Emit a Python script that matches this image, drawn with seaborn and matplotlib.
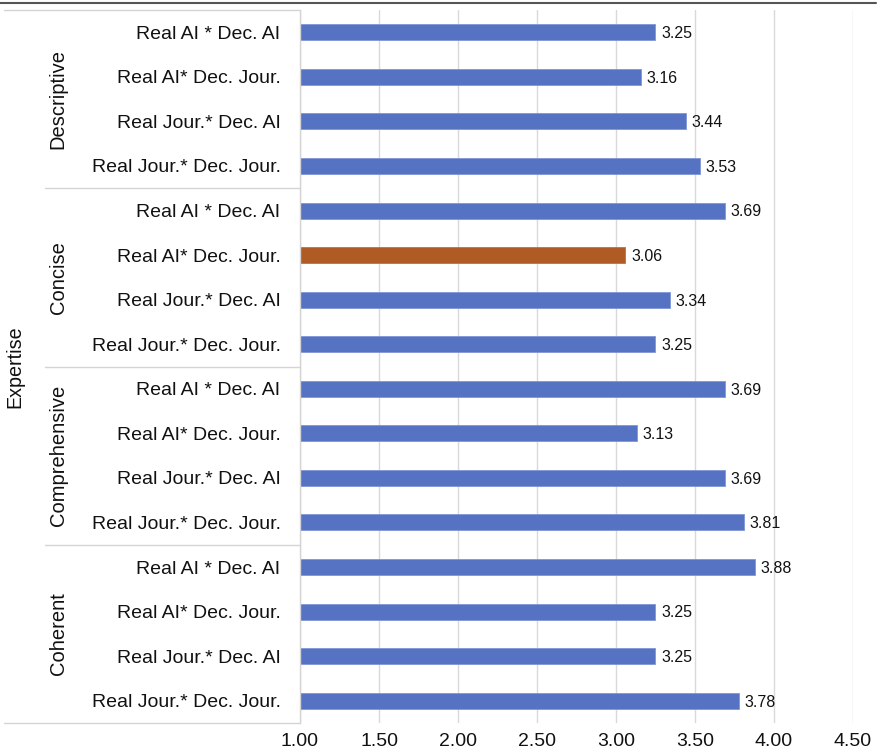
import matplotlib
matplotlib.use("Agg")
import matplotlib.pyplot as plt
import matplotlib.transforms as mtransforms
from matplotlib.lines import Line2D
import seaborn as sns
import pandas as pd

# ---- data ----
groups = ["Descriptive", "Concise", "Comprehensive", "Coherent"]
conditions = [
    "Real AI * Dec. AI",
    "Real AI* Dec. Jour.",
    "Real Jour.* Dec. AI",
    "Real Jour.* Dec. Jour.",
]
descriptive = [3.25, 3.16, 3.44, 3.53]
concise = [3.69, 3.06, 3.34, 3.25]
comprehensive = [3.69, 3.13, 3.69, 3.81]
coherent = [3.88, 3.25, 3.25, 3.78]
highlight = ("Concise", "Real AI* Dec. Jour.")
x_ticks = [1.00, 1.50, 2.00, 2.50, 3.00, 3.50, 4.00, 4.50]
axis_title = "Expertise"

BLUE = "#5673C3"
ORANGE = "#B05B24"

rows = []
for g, vals in zip(groups, [descriptive, concise, comprehensive, coherent]):
    for c, v in zip(conditions, vals):
        rows.append({"group": g, "condition": c, "key": f"{g}|{c}", "score": v})
df = pd.DataFrame(rows)
colors = [ORANGE if (r.group, r.condition) == highlight else BLUE for r in df.itertuples()]

sns.set_theme(style="white")
plt.rcParams["font.family"] = ["Liberation Sans", "DejaVu Sans"]

W, H = 879, 756
fig = plt.figure(figsize=(W / 100, H / 100), dpi=100)
ax_left, ax_right, ax_top, ax_bottom = 300, 853, 10, 723
ax = fig.add_axes([ax_left / W, 1 - ax_bottom / H,
                   (ax_right - ax_left) / W, (ax_bottom - ax_top) / H])

sns.barplot(data=df, y="key", x="score", hue="key", palette=colors,
            orient="h", width=0.36, legend=False, ax=ax, saturation=1,
            edgecolor="#7f96d6", linewidth=0.6)
# keep the highlighted bar's outline in its own tone
for patch, col in zip(ax.patches, colors):
    if col == ORANGE:
        patch.set_edgecolor("#c07040")

ax.set_xlim(1.0, 4.5)
ax.set_ylim(len(df) - 0.5, -0.5)
ax.set_xticks(x_ticks)
ax.set_xticklabels([f"{t:.2f}" for t in x_ticks], fontsize=14, color="#111111")
ax.set_yticks(range(len(df)))
ax.set_yticklabels(df["condition"], fontsize=14, color="#111111")
ax.tick_params(axis="y", length=0, pad=14)
ax.tick_params(axis="x", length=0, pad=7)
ax.set_xlabel("")
ax.set_ylabel("")

ax.xaxis.grid(True, color="#d9d9d9", linewidth=1.0)
ax.yaxis.grid(False)
ax.set_axisbelow(True)
for side in ["top", "right", "bottom"]:
    ax.spines[side].set_visible(False)
ax.spines["left"].set_color("#d4d4d4")
ax.spines["left"].set_linewidth(1.0)

# value labels
for patch, v in zip(ax.patches, df["score"]):
    y = patch.get_y() + patch.get_height() / 2
    ax.annotate(f"{v:.2f}", xy=(v, y), xytext=(4, -1), textcoords="offset points",
                va="center", ha="left", fontsize=11.5, color="#111111")

# left-hand category frame: group separators and labels
span = ax_right - ax_left
trans = mtransforms.blended_transform_factory(ax.transAxes, ax.transData)
x_outer = (4 - ax_left) / span
x_inner = (45 - ax_left) / span
line_kw = dict(color="#d4d4d4", linewidth=1.0, transform=trans, clip_on=False)
ax.add_line(Line2D([x_outer, 0], [-0.5, -0.5], **line_kw))
ax.add_line(Line2D([x_outer, 0], [len(df) - 0.5, len(df) - 0.5], **line_kw))
n = len(conditions)
for i in range(1, len(groups)):
    yb = i * n - 0.5
    ax.add_line(Line2D([x_inner, 0], [yb, yb], **line_kw))

x_group = (58 - ax_left) / span
for i, g in enumerate(groups):
    yc = i * n + (n - 1) / 2
    ax.text(x_group, yc, g, transform=trans, rotation=90, ha="center",
            va="center", fontsize=14.5, color="#111111")

x_title = (15 - ax_left) / span
ax.text(x_title, (len(df) - 1) / 2, axis_title, transform=trans, rotation=90,
        ha="center", va="center", fontsize=14.2, color="#111111")

# dark rule across the top of the figure
fig.add_artist(Line2D([0, 876 / W], [1 - 3 / H, 1 - 3 / H], color="#555555",
                      linewidth=1.5, transform=fig.transFigure))

fig.savefig("out.png", dpi=100, facecolor="white")
